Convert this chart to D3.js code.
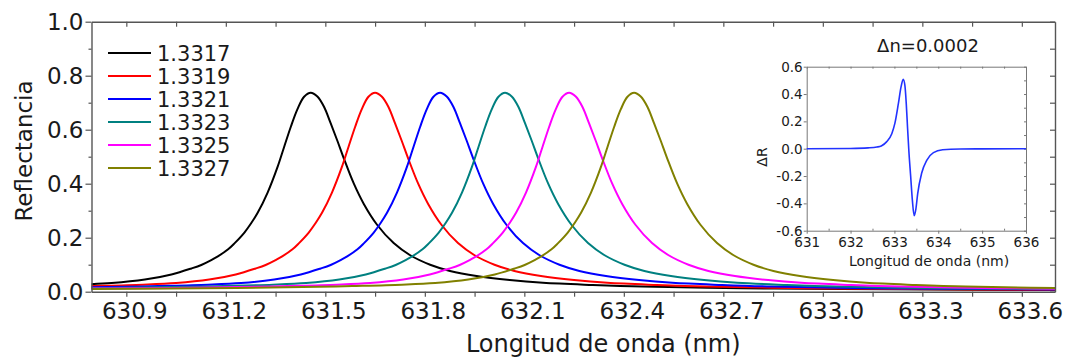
<!DOCTYPE html>
<html><head><meta charset="utf-8">
<script src="https://cdn.jsdelivr.net/npm/d3@7"></script>
<style>body{margin:0;background:#fff}svg{display:block}</style>
</head><body>
<svg id="chart" width="1071" height="360"></svg>
<script>
// ---- data ----
const seriesNames = ['1.3317','1.3319','1.3321','1.3323','1.3325','1.3327'];
const seriesColors = ['#000000','#ff0000','#0000ff','#008080','#ff00ff','#808000'];
const peakWavelengths = [631.456, 631.650, 631.846, 632.042, 632.235, 632.431];
// resonance profile: wavelength offset from peak (nm) and reflectance
const profileOffset = [-1.80,-1.50,-1.20,-1.00,-0.85,-0.70,-0.60,-0.50,-0.42,-0.36,-0.33,-0.30,-0.28,-0.25,-0.23,-0.20,-0.18,-0.16,-0.13,-0.10,-0.08,-0.06,-0.04,-0.02,0,0.02,0.04,0.06,0.08,0.10,0.13,0.16,0.20,0.25,0.30,0.36,0.42,0.50,0.60,0.70,0.85,1.00,1.30,1.60,2.00,2.60];
const profileR      = [0.009,0.011,0.014,0.017,0.021,0.026,0.032,0.045,0.064,0.086,0.099,0.117,0.131,0.156,0.179,0.219,0.253,0.292,0.367,0.462,0.537,0.611,0.676,0.722,0.737,0.723,0.685,0.624,0.560,0.493,0.400,0.325,0.248,0.180,0.135,0.100,0.077,0.058,0.043,0.033,0.025,0.019,0.013,0.010,0.007,0.005];
const xTickLabels = ['630.9','631.2','631.5','631.8','632.1','632.4','632.7','633.0','633.3','633.6'];
const yTickLabels = ['0.0','0.2','0.4','0.6','0.8','1.0'];
const insetWavelength = [631.0,632.0,632.4,632.6,632.7,632.82,632.94,633.01,633.09,633.15,633.20,633.24,633.27,633.30,633.33,633.37,633.41,633.45,633.49,633.53,633.62,633.74,633.89,634.1,634.5,635.0,636.0];
const insetDeltaR     = [0,0.002,0.006,0.012,0.020,0.050,0.110,0.185,0.330,0.450,0.508,0.460,0.330,0.150,-0.020,-0.200,-0.380,-0.490,-0.440,-0.330,-0.180,-0.083,-0.029,-0.008,-0.002,-0.001,0];
const insetXTickLabels = ['631','632','633','634','635','636'];
const insetYTickLabels = ['-0.6','-0.4','-0.2','0.0','0.2','0.4','0.6'];

// ---- layout ----
const svg = d3.select('#chart');
const FONT = 'DejaVu Sans, Verdana, sans-serif';
const axisColor = '#555';
const M = {left: 91.5, right: 1055, top: 21.7, bottom: 291.7};

const x = d3.scaleLinear().domain([630.795, 633.70]).range([M.left, M.right]);
const y = d3.scaleLinear().domain([0, 1]).range([M.bottom, M.top]);

svg.append('defs').append('clipPath').attr('id','plotclip')
  .append('rect').attr('x', M.left).attr('y', M.top)
  .attr('width', M.right - M.left).attr('height', M.bottom - M.top);

// curves
const line = d3.line().x(d => x(d[0])).y(d => y(d[1])).curve(d3.curveCatmullRom.alpha(0.5));
const curves = svg.append('g').attr('clip-path','url(#plotclip)');
peakWavelengths.forEach((p, i) => {
  const pts = profileOffset.map((o, k) => [p + o, profileR[k]]);
  curves.append('path').attr('d', line(pts)).attr('fill','none')
    .attr('stroke', seriesColors[i]).attr('stroke-width', 2);
});

// x ticks (major labeled every 0.3, minor in between)
const xMajor = xTickLabels.map(Number);
const xAll = [];
xMajor.forEach(v => { xAll.push(v); xAll.push(+(v + 0.15).toFixed(2)); });
const xTicks = xAll.filter(v => v >= x.domain()[0] && v <= x.domain()[1]);
const xLabelOf = v => { const i = xMajor.findIndex(m => Math.abs(m - v) < 1e-6); return i >= 0 ? xTickLabels[i] : ''; };

function styleAxis(g) {
  g.select('.domain').attr('stroke', axisColor).attr('stroke-width', 1.4);
  g.selectAll('.tick line').attr('stroke', axisColor).attr('stroke-width', 1.2);
  g.selectAll('text').attr('fill', '#1a1a1a').attr('font-family', FONT);
}

const gxb = svg.append('g').attr('transform', `translate(0,${M.bottom})`)
  .call(d3.axisBottom(x).tickValues(xTicks).tickSize(5).tickSizeOuter(0).tickPadding(6).tickFormat(xLabelOf));
styleAxis(gxb);
gxb.selectAll('text').attr('font-size', 23).attr('dx', 8);

const gxt = svg.append('g').attr('transform', `translate(0,${M.top})`)
  .call(d3.axisTop(x).tickValues(xTicks).tickSize(-5).tickSizeOuter(0).tickFormat(''));
styleAxis(gxt);

// y ticks
const yMajor = yTickLabels.map(Number);
const yMinor = [0.1,0.3,0.5,0.7,0.9];
const gyl = svg.append('g').attr('transform', `translate(${M.left},0)`)
  .call(d3.axisLeft(y).tickValues(yMajor).tickSize(6).tickSizeOuter(0).tickPadding(2).tickFormat((d,i) => yTickLabels[i]));
styleAxis(gyl);
gyl.selectAll('text').attr('font-size', 23);
const gylm = svg.append('g').attr('transform', `translate(${M.left},0)`)
  .call(d3.axisLeft(y).tickValues(yMinor).tickSize(3).tickSizeOuter(0).tickFormat(''));
styleAxis(gylm); gylm.select('.domain').remove();

const gyr = svg.append('g').attr('transform', `translate(${M.right},0)`)
  .call(d3.axisRight(y).tickValues(yMajor.concat(yMinor)).tickSize(-5).tickSizeOuter(0).tickFormat(''));
styleAxis(gyr);

// axis titles
svg.append('text').attr('x', (M.left + M.right) / 2 + 30).attr('y', 352)
  .attr('text-anchor','middle').attr('font-family', FONT).attr('font-size', 24).attr('fill','#1a1a1a')
  .text('Longitud de onda (nm)');
svg.append('text').attr('transform', 'translate(32,151) rotate(-90)')
  .attr('text-anchor','middle').attr('font-family', FONT).attr('font-size', 23).attr('fill','#1a1a1a')
  .text('Reflectancia');

// legend
const leg = svg.append('g');
seriesNames.forEach((n, i) => {
  const ry = 53 + 23 * i;
  leg.append('line').attr('x1', 108).attr('x2', 151).attr('y1', ry).attr('y2', ry)
    .attr('stroke', seriesColors[i]).attr('stroke-width', 2);
  leg.append('text').attr('x', 157).attr('y', ry + 7.5).attr('font-family', FONT)
    .attr('font-size', 21).attr('fill', '#1a1a1a').text(n);
});

// ---- inset ----
const I = {left: 806.7, right: 1026, top: 66.7, bottom: 230.7};
const xi = d3.scaleLinear().domain([631, 636]).range([I.left, I.right]);
const yi = d3.scaleLinear().domain([-0.6, 0.6]).range([I.bottom, I.top]);
const inset = svg.append('g');
const iMajorX = insetXTickLabels.map(Number);
const iMinorX = [631.5,632.5,633.5,634.5,635.5];
const iMajorY = insetYTickLabels.map(Number);
const iMinorY = [-0.5,-0.3,-0.1,0.1,0.3,0.5];

function styleInset(g) {
  g.select('.domain').attr('stroke', '#777').attr('stroke-width', 1);
  g.selectAll('.tick line').attr('stroke', '#777').attr('stroke-width', 1);
  g.selectAll('text').attr('fill', '#1a1a1a').attr('font-family', FONT).attr('font-size', 13.5);
}
const ib = inset.append('g').attr('transform', `translate(0,${I.bottom})`)
  .call(d3.axisBottom(xi).tickValues(iMajorX).tickSize(3).tickSizeOuter(0).tickPadding(4).tickFormat((d,i) => insetXTickLabels[i]));
styleInset(ib);
const ibm = inset.append('g').attr('transform', `translate(0,${I.bottom})`)
  .call(d3.axisBottom(xi).tickValues(iMinorX).tickSize(-2).tickSizeOuter(0).tickFormat(''));
styleInset(ibm); ibm.select('.domain').remove();
const it = inset.append('g').attr('transform', `translate(0,${I.top})`)
  .call(d3.axisTop(xi).tickValues(iMajorX.concat(iMinorX)).tickSize(-2).tickSizeOuter(0).tickFormat(''));
styleInset(it);
const il = inset.append('g').attr('transform', `translate(${I.left},0)`)
  .call(d3.axisLeft(yi).tickValues(iMajorY).tickSize(3).tickSizeOuter(0).tickPadding(1).tickFormat((d,i) => insetYTickLabels[i]));
styleInset(il);
const ir = inset.append('g').attr('transform', `translate(${I.right},0)`)
  .call(d3.axisRight(yi).tickValues(iMajorY.concat(iMinorY)).tickSize(-2).tickSizeOuter(0).tickFormat(''));
styleInset(ir);

const iline = d3.line().x(d => xi(d[0])).y(d => yi(d[1])).curve(d3.curveMonotoneX);
inset.append('path').attr('d', iline(insetWavelength.map((w,k) => [w, insetDeltaR[k]])))
  .attr('fill','none').attr('stroke','#2233ff').attr('stroke-width', 1.6);

inset.append('text').attr('x', 928).attr('y', 52).attr('text-anchor','middle')
  .attr('font-family', FONT).attr('font-size', 18).attr('fill','#1a1a1a').text('Δn=0.0002');
inset.append('text').attr('x', 929).attr('y', 266).attr('text-anchor','middle')
  .attr('font-family', FONT).attr('font-size', 14).attr('fill','#1a1a1a').text('Longitud de onda (nm)');
inset.append('text').attr('transform', 'translate(767,157) rotate(-90)').attr('text-anchor','middle')
  .attr('font-family', FONT).attr('font-size', 14).attr('fill','#1a1a1a').text('ΔR');
</script>
</body></html>
